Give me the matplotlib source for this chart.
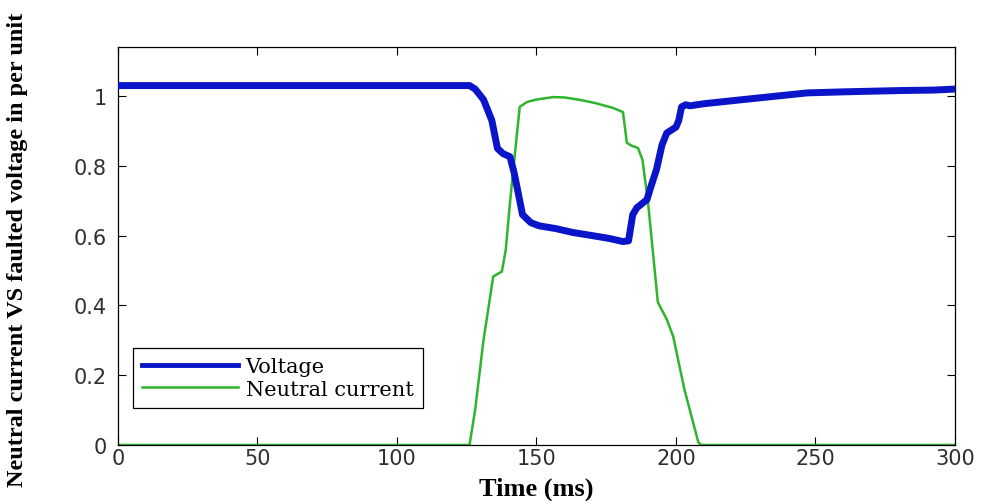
import matplotlib.pyplot as plt

# voltage (per unit) vs time (ms)
volt_t = [0, 126, 128, 131, 134, 136, 138, 140.5, 142, 145, 148, 151, 157, 163, 170, 176, 181, 183, 184.5, 186, 189.6,
          191, 193, 195, 196.7, 200, 201, 202, 203.5, 205, 210, 223, 235, 247, 260, 270.6, 282, 292, 300]
volt_v = [1.03, 1.03, 1.02, 0.99, 0.93, 0.85, 0.835, 0.826, 0.78, 0.66, 0.637, 0.628, 0.62, 0.609, 0.6, 0.592, 0.583, 0.585,
          0.66, 0.68, 0.703, 0.74, 0.789, 0.86, 0.894, 0.911, 0.93, 0.969, 0.975, 0.972, 0.978, 0.989, 0.999, 1.009, 1.012,
          1.014, 1.016, 1.017, 1.02]

# neutral current (per unit)
cur_t = [0, 126, 128, 131, 134.5, 137.6, 139, 140.5, 142.3, 144, 146.6, 150, 156, 160, 165.6, 171, 177.4, 181, 182.4,
         184, 186.4, 188, 190, 193.5, 196.7, 199, 203, 208, 209, 300]
cur_v = [0, 0, 0.1, 0.3, 0.483, 0.497, 0.56, 0.694, 0.837, 0.969, 0.983, 0.99, 0.997, 0.996, 0.989, 0.98, 0.966, 0.954,
         0.866, 0.858, 0.851, 0.817, 0.694, 0.409, 0.36, 0.311, 0.16, 0.008, 0, 0]

x_ticks = [0, 50, 100, 150, 200, 250, 300]
y_ticks = [0, 0.2, 0.4, 0.6, 0.8, 1]
y_labels = ['0', '0.2', '0.4', '0.6', '0.8', '1']

fig = plt.figure(figsize=(9.85, 5.02), dpi=100)
ax = fig.add_axes([0.1198, 0.1116, 0.8497, 0.7924])

ax.plot(cur_t, cur_v, color='#2db52d', lw=1.8, label='Neutral current', zorder=2)
ax.plot(volt_t, volt_v, color='#0a14c8', lw=5, label='Voltage', zorder=3)

ax.set_xlim(0, 300)
ax.set_ylim(0, 1.14)
ax.set_xticks(x_ticks)
ax.set_yticks(y_ticks)
ax.set_yticklabels(y_labels)
ax.tick_params(direction='in', top=True, right=True, length=6, width=0.8, labelsize=15)
ax.tick_params(axis='x', pad=2)
ax.tick_params(axis='y', pad=8)
for lab in ax.get_xticklabels() + ax.get_yticklabels():
    lab.set_family('DejaVu Sans')
    lab.set_color('#303030')
for s in ax.spines.values():
    s.set_linewidth(0.9)

ax.set_xlabel('Time (ms)', family='Liberation Serif', fontweight='bold', fontsize=19, labelpad=6)
fig.text(0.018, 0.502, 'Neutral current VS faulted voltage in per unit', rotation=90, va='center', ha='center',
         family='Liberation Serif', fontweight='bold', fontsize=17.5)

h, l = ax.get_legend_handles_labels()
leg = ax.legend(h[::-1], l[::-1], loc='lower left', bbox_to_anchor=(0.018, 0.093), fancybox=False, framealpha=1,
                edgecolor='black', prop={'family': 'DejaVu Serif', 'size': 15}, handlelength=4.6, handletextpad=0.35,
                borderpad=0.45, labelspacing=0.15, borderaxespad=0)
leg.get_frame().set_linewidth(0.9)
leg.get_lines()[0].set_linewidth(3.5)

fig.savefig('out.png', dpi=100)
